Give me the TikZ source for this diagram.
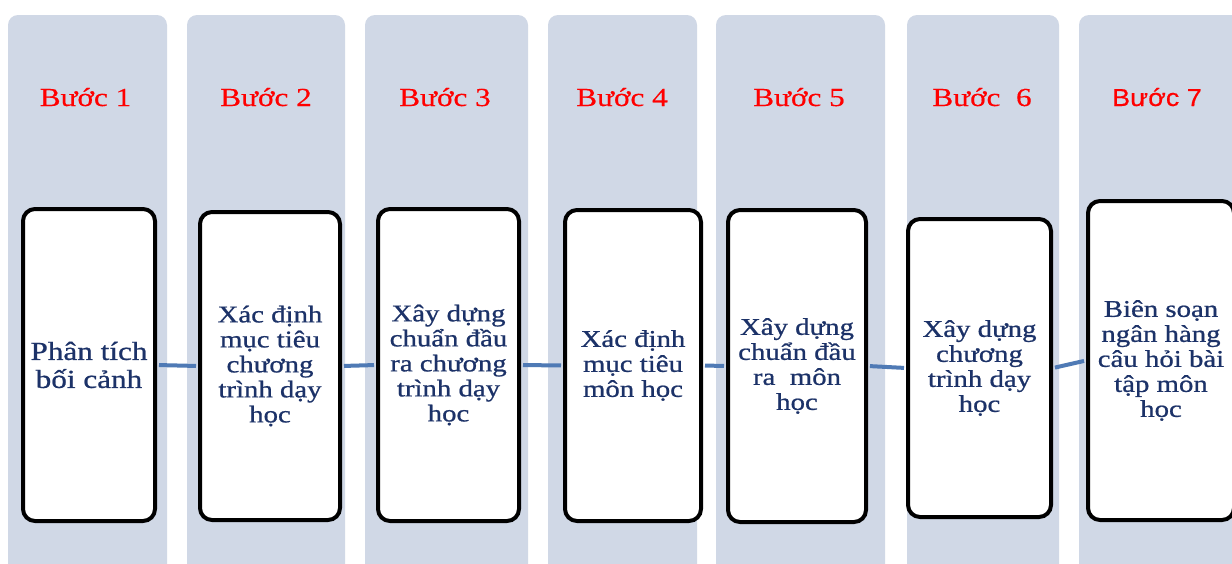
\documentclass[tikz,border=0pt]{standalone}
\usepackage{fontspec}
\newfontfamily\serifst[FakeStretch=1.2,FakeBold=0.8]{Liberation Serif}
\newfontfamily\labelst[FakeStretch=1.2,FakeBold=0.4]{Liberation Serif}
\newfontfamily\sansst[FakeStretch=1.1,FakeBold=0.4]{Liberation Sans}
\definecolor{colfill}{RGB}{208,216,230}
\definecolor{navy}{RGB}{28,50,104}
\definecolor{linkblue}{RGB}{79,122,181}
\begin{document}
\begin{tikzpicture}[x=1pt,y=-1pt,
  column/.style={fill=colfill, rounded corners=10pt},
  stepbox/.style={draw=black, line width=4pt, fill=white, rounded corners=12pt,
    align=center, text=navy, inner sep=0pt,
    font=\serifst\fontsize{24}{25}\selectfont},
  steplabel/.style={anchor=base, text=red, inner sep=0pt,
    font=\labelst\fontsize{26}{28}\selectfont},
  link/.style={draw=linkblue, line width=4pt, shorten >=2pt, shorten <=2pt}]
\clip (0,0) rectangle (1232,563);
\fill[white] (0,0) rectangle (1232,563);
% columns
\fill[column] (8,15) rectangle (167,590);
\fill[column] (187,15) rectangle (345,590);
\fill[column] (365,15) rectangle (528,590);
\fill[column] (548,15) rectangle (697,590);
\fill[column] (716,15) rectangle (885,590);
\fill[column] (907,15) rectangle (1059,590);
\fill[column] (1079,15) rectangle (1260,590);
% labels
\node[steplabel] (l1) at (85.5,106) {Bước 1};
\node[steplabel] (l2) at (266,106) {Bước 2};
\node[steplabel] (l3) at (445,106) {Bước 3};
\node[steplabel] (l4) at (622,106) {Bước 4};
\node[steplabel] (l5) at (799,106) {Bước 5};
\node[steplabel] (l6) at (982,106) {Bước\ \ 6};
\node[steplabel, font=\sansst\fontsize{24.5}{28}\selectfont] (l7) at (1157,106) {Bước 7};
% boxes
\node[stepbox, minimum width=132pt, minimum height=312pt,
  font=\serifst\fontsize{26}{28}\selectfont] (b1) at (89,365) {Phân tích\\bối cảnh};
\node[stepbox, minimum width=140pt, minimum height=308pt] (b2) at (270,366)
  {Xác định\\mục tiêu\\chương\\trình dạy\\học};
\node[stepbox, minimum width=141pt, minimum height=312pt] (b3) at (448.5,365)
  {Xây dựng\\chuẩn đầu\\ra chương\\trình dạy\\học};
\node[stepbox, minimum width=136pt, minimum height=311pt] (b4) at (633,365.5)
  {Xác định\\mục tiêu\\môn học};
\node[stepbox, minimum width=138pt, minimum height=312pt] (b5) at (797,366)
  {Xây dựng\\chuẩn đầu\\ra\ \ môn\\học};
\node[stepbox, minimum width=143pt, minimum height=298pt] (b6) at (979.5,368)
  {Xây dựng\\chương\\trình dạy\\học};
\node[stepbox, minimum width=146pt, minimum height=319pt] (b7) at (1161,360.5)
  {Biên soạn\\ngân hàng\\câu hỏi bài\\tập môn\\học};
% connectors
\draw[link] (b1.east) -- (b2.west);
\draw[link] (b2.east) -- (b3.west);
\draw[link] (b3.east) -- (b4.west);
\draw[link] (b4.east) -- (b5.west);
\draw[link] (b5.east) -- (b6.west);
\draw[link] (b6.east) -- (b7.west);
\end{tikzpicture}
\end{document}
